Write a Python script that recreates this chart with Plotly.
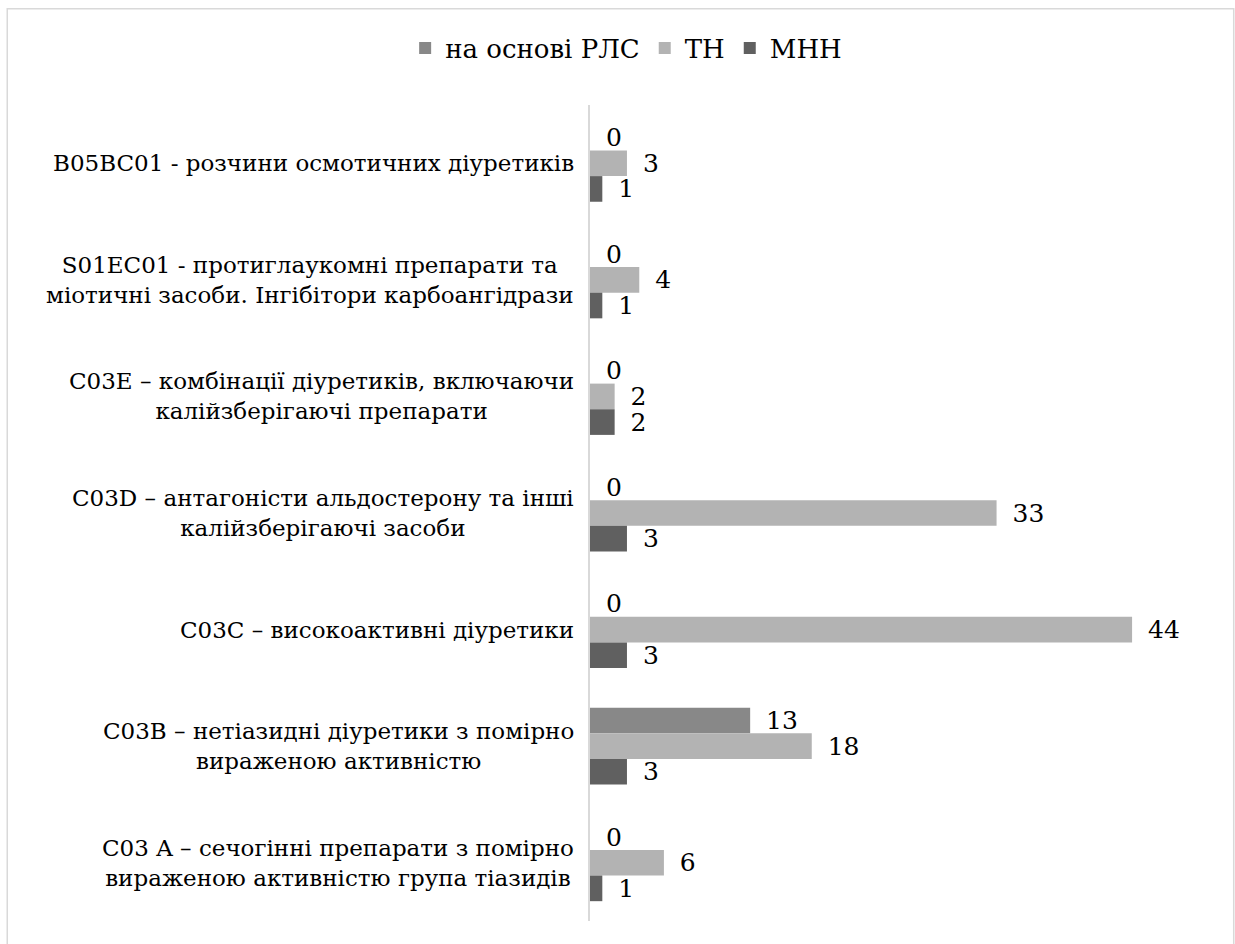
import plotly.graph_objects as go

categories = [
    "B05BC01 - розчини осмотичних діуретиків",
    "S01EC01 - протиглаукомні препарати та<br>міотичні засоби. Інгібітори карбоангідрази",
    "C03E – комбінації діуретиків, включаючи<br>калійзберігаючі препарати",
    "C03D – антагоністи альдостерону та інші<br>калійзберігаючі засоби",
    "C03C – високоактивні діуретики",
    "C03B – нетіазидні діуретики з помірно<br>вираженою активністю",
    "C03 A – сечогінні препарати з помірно<br>вираженою активністю група тіазидів",
]
series_names = ["на основі РЛС", "ТН", "МНН"]
rls = [0, 0, 0, 0, 0, 13, 0]
tn = [3, 4, 2, 33, 44, 18, 6]
mnh = [1, 1, 2, 3, 3, 3, 1]
colors = ["#888888", "#b3b3b3", "#606060"]

FONT = "DejaVu Serif"
LBL = 23

fig = go.Figure()
for name, vals, col in zip(series_names, [rls, tn, mnh], colors):
    fig.add_trace(go.Bar(
        y=categories, x=vals, name=name, orientation="h",
        marker=dict(color=col, line=dict(width=0)),
        text=vals, texttemplate=" \u2009%{x}", textposition="outside",
        textfont=dict(family=FONT, size=25, color="#000000"),
        constraintext="none", cliponaxis=False,
    ))

for c in categories:
    fig.add_annotation(x=0, y=c, xref="x", yref="y", text=c, showarrow=False,
                       xanchor="right", yanchor="middle", align="center", xshift=-14,
                       font=dict(family=FONT, size=LBL, color="#000000"))

fig.add_shape(type="rect", xref="paper", yref="paper",
              x0=-0.946, x1=1.045, y0=-0.05, y1=1.118,
              line=dict(color="#d9d9d9", width=1.5), fillcolor="rgba(0,0,0,0)")

fig.update_layout(
    width=1235, height=944,
    margin=dict(l=590, r=29, t=105, b=23),
    paper_bgcolor="white", plot_bgcolor="white",
    barmode="group", bargap=0.34, bargroupgap=0,
    font=dict(family=FONT, size=LBL, color="#000000"),
    showlegend=True,
    legend=dict(orientation="h", xref="container", yref="container",
                x=0.507, xanchor="center", y=0.949, yanchor="middle",
                font=dict(family=FONT, size=26, color="#000000"),
                itemclick=False),
    xaxis=dict(range=[0, 50], showgrid=False, zeroline=False, showline=False,
               showticklabels=False, ticks=""),
    yaxis=dict(autorange="reversed", showgrid=False, zeroline=False, showline=True,
               linecolor="#d9d9d9", linewidth=1.5, showticklabels=False, ticks=""),
)

fig.write_html("out.html")
